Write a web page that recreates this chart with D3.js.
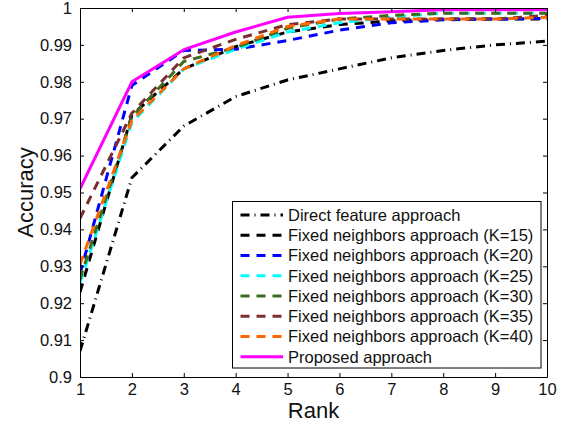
<!DOCTYPE html>
<html>
<head>
<meta charset="utf-8">
<script src="https://cdn.jsdelivr.net/npm/d3@7"></script>
<style>
  html, body { margin: 0; padding: 0; background: #fff; }
  svg { display: block; font-family: "Liberation Sans", Arial, sans-serif; }
</style>
</head>
<body>
<svg id="chart" width="566" height="424"></svg>
<script>
// Rank-k identification accuracy for each method
const ranks = [1, 2, 3, 4, 5, 6, 7, 8, 9, 10];
const directFeature = [0.907, 0.954, 0.968, 0.976, 0.9805, 0.9835, 0.9865, 0.9885, 0.990, 0.991];
const fixedK15 = [0.923, 0.971, 0.9835, 0.9895, 0.9935, 0.9955, 0.9965, 0.997, 0.997, 0.997];
const fixedK20 = [0.928, 0.979, 0.9885, 0.9888, 0.9912, 0.994, 0.996, 0.9968, 0.997, 0.9972];
const fixedK25 = [0.9255, 0.969, 0.9835, 0.9888, 0.9935, 0.996, 0.9975, 0.9986, 0.9986, 0.9986];
const fixedK30 = [0.9265, 0.9705, 0.9855, 0.9893, 0.9945, 0.997, 0.998, 0.9986, 0.9986, 0.9986];
const fixedK35 = [0.943, 0.9715, 0.9865, 0.9915, 0.9955, 0.997, 0.997, 0.997, 0.997, 0.998];
const fixedK40 = [0.9305, 0.9695, 0.9835, 0.9898, 0.995, 0.997, 0.997, 0.997, 0.997, 0.9975];
const proposed = [0.951, 0.980, 0.9887, 0.9935, 0.9975, 0.9985, 0.999, 0.9995, 0.9995, 0.9995];

const seriesNames = [
  "Direct feature approach",
  "Fixed neighbors approach (K=15)",
  "Fixed neighbors approach (K=20)",
  "Fixed neighbors approach (K=25)",
  "Fixed neighbors approach (K=30)",
  "Fixed neighbors approach (K=35)",
  "Fixed neighbors approach (K=40)",
  "Proposed approach"
];
const seriesValues = [directFeature, fixedK15, fixedK20, fixedK25, fixedK30, fixedK35, fixedK40, proposed];
const seriesColors = ["#000000", "#000000", "#0000ff", "#00ffff", "#3f6b1c", "#7a2e2e", "#ff6600", "#ff00ff"];
const seriesDash = ["9,5,1,5", "9,7", "9,7", "9,7", "9,7", "9,7", "9,7", null];

const xTicks = [1, 2, 3, 4, 5, 6, 7, 8, 9, 10];
const yTicks = [0.9, 0.91, 0.92, 0.93, 0.94, 0.95, 0.96, 0.97, 0.98, 0.99, 1];

const svg = d3.select("#chart");
const plotLeft = 80, plotRight = 547, plotTop = 8, plotBottom = 377;

const x = d3.scaleLinear().domain([1, 10]).range([plotLeft, plotRight]);
const y = d3.scaleLinear().domain([0.9, 1]).range([plotBottom, plotTop]);

svg.append("defs").append("clipPath").attr("id", "plotClip")
  .append("rect").attr("x", plotLeft).attr("y", plotTop)
  .attr("width", plotRight - plotLeft).attr("height", plotBottom - plotTop);

// Data lines
const line = d3.line().x((d, i) => x(ranks[i])).y(d => y(d));
const lines = svg.append("g").attr("clip-path", "url(#plotClip)");
seriesValues.forEach((vals, i) => {
  lines.append("path")
    .attr("d", line(vals))
    .attr("fill", "none")
    .attr("stroke", seriesColors[i])
    .attr("stroke-width", 3)
    .attr("stroke-linejoin", "round")
    .attr("stroke-dasharray", seriesDash[i]);
});

// Axes with inward ticks on all four sides
const tickLen = 4;
const fontPx = 16.5;
const axisG = svg.append("g");

const bottomAxis = d3.axisBottom(x).tickValues(xTicks).tickSizeInner(-tickLen).tickSizeOuter(0).tickPadding(6);
const topAxis = d3.axisTop(x).tickValues(xTicks).tickSizeInner(-tickLen).tickSizeOuter(0).tickFormat("");
const leftAxis = d3.axisLeft(y).tickValues(yTicks).tickSizeInner(-tickLen).tickSizeOuter(0).tickPadding(8)
  .tickFormat(d => String(+d.toFixed(2)));
const rightAxis = d3.axisRight(y).tickValues(yTicks).tickSizeInner(-tickLen).tickSizeOuter(0).tickFormat("");

function styleAxis(g) {
  g.selectAll("path.domain").attr("stroke", "#000").attr("stroke-width", 1);
  g.selectAll(".tick line").attr("stroke", "#000").attr("stroke-width", 1);
  g.selectAll(".tick text").attr("fill", "#111").style("font-size", fontPx + "px")
    .style("font-family", "'Liberation Sans', Arial, sans-serif");
}

axisG.append("g").attr("transform", `translate(0,${plotBottom})`).call(bottomAxis).call(styleAxis);
axisG.append("g").attr("transform", `translate(0,${plotTop})`).call(topAxis).call(styleAxis);
axisG.append("g").attr("transform", `translate(${plotLeft},0)`).call(leftAxis).call(styleAxis);
axisG.append("g").attr("transform", `translate(${plotRight},0)`).call(rightAxis).call(styleAxis);

// Axis titles
svg.append("text")
  .attr("x", (plotLeft + plotRight) / 2).attr("y", 418)
  .attr("text-anchor", "middle")
  .style("font-size", "22px").attr("fill", "#111")
  .text("Rank");
svg.append("text")
  .attr("transform", `translate(33,${(plotTop + plotBottom) / 2}) rotate(-90)`)
  .attr("text-anchor", "middle")
  .style("font-size", "22px").attr("fill", "#111")
  .text("Accuracy");

// Legend
const legX = 232.5, legY = 201.5, legW = 308.5, legH = 166.5;
const legend = svg.append("g");
legend.append("rect")
  .attr("x", legX).attr("y", legY).attr("width", legW).attr("height", legH)
  .attr("fill", "#fff").attr("stroke", "#000").attr("stroke-width", 1);
const rowStep = 20.25, firstRow = 215;
seriesNames.forEach((name, i) => {
  const cy = firstRow + i * rowStep;
  legend.append("line")
    .attr("x1", 240.5).attr("x2", 283).attr("y1", cy).attr("y2", cy)
    .attr("stroke", seriesColors[i]).attr("stroke-width", 3)
    .attr("stroke-dasharray", seriesDash[i]);
  legend.append("text")
    .attr("x", 288).attr("y", cy).attr("dy", "0.36em")
    .style("font-size", fontPx + "px").attr("fill", "#111")
    .text(name);
});
</script>
</body>
</html>
